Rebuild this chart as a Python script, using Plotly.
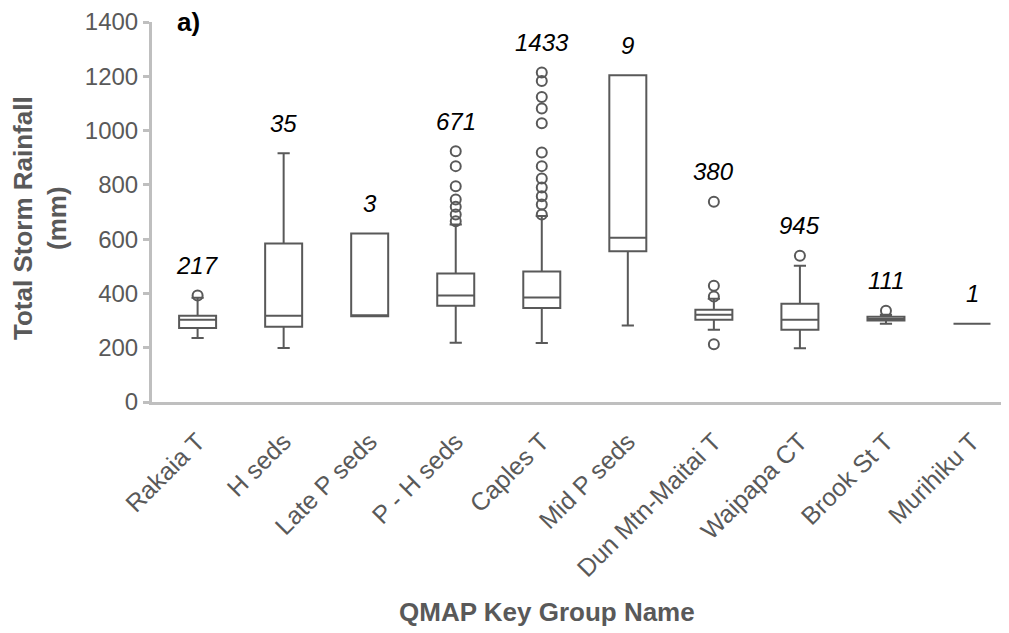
import plotly.graph_objects as go

categories = ["Rakaia T", "H seds", "Late P seds", "P - H seds", "Caples T",
              "Mid P seds", "Dun Mtn-Maitai T", "Waipapa CT", "Brook St T", "Murihiku T"]
counts = [217, 35, 3, 671, 1433, 9, 380, 945, 111, 1]
q1 = [273, 277, 316, 355, 346, 555, 303, 266, 300, 288]
median = [303, 318, 320, 392, 385, 605, 321, 303, 306, 288]
q3 = [318, 584, 621, 473, 481, 1204, 340, 362, 314, 288]
lower_fence = [236, 199, 316, 218, 217, 282, 266, 198, 288, 288]
upper_fence = [384, 916, 621, 654, 685, 1204, 380, 502, 321, 288]
outliers = [
    [392],
    [],
    [],
    [924, 869, 795, 746, 719, 691, 666],
    [1214, 1183, 1124, 1081, 1027, 919, 869, 823, 790, 758, 728, 691],
    [],
    [738, 428, 389, 213],
    [539],
    [336],
    [],
]
y_ticks = [0, 200, 400, 600, 800, 1000, 1200, 1400]

FONT = "Liberation Sans, Arial, sans-serif"
LINE = "#595959"
AXIS = "#bfbfbf"

# plot area in page pixels: left 152, right 1009, top 22, bottom 402
# (page body adds an 8 px offset)
PL, PT, PW, PH = 144, 14, 857, 380


def px_x(p):
    return (p - 8 - PL) / PW


def px_y(p):
    return (PT + PH - (p - 8)) / PH


fig = go.Figure()
fig.add_trace(go.Box(
    x=categories, q1=q1, median=median, q3=q3,
    lowerfence=lower_fence, upperfence=upper_fence,
    boxpoints=False, width=0.43, whiskerwidth=0.33,
    fillcolor="rgba(255,255,255,0)",
    line=dict(color=LINE, width=2),
    showlegend=False, hoverinfo="skip",
))

ox, oy = [], []
for c, vals in zip(categories, outliers):
    for v in vals:
        ox.append(c)
        oy.append(v)
fig.add_trace(go.Scatter(
    x=ox, y=oy, mode="markers",
    marker=dict(symbol="circle-open", size=10, color=LINE, line=dict(width=2, color=LINE)),
    showlegend=False, hoverinfo="skip",
))

for c, n, uf, q, outs in zip(categories, counts, upper_fence, q3, outliers):
    top = max([uf, q] + outs)
    fig.add_annotation(x=c, y=top, text=str(n), showarrow=False,
                       xanchor="center", yanchor="middle", yshift=30,
                       font=dict(family=FONT, size=24, color="black", style="italic"))

fig.add_annotation(xref="paper", yref="paper", x=px_x(40), y=px_y(218),
                   xanchor="center", yanchor="middle",
                   text="<b>Total Storm Rainfall<br>(mm)</b>", textangle=-90,
                   showarrow=False, font=dict(family=FONT, size=26, color=LINE))
fig.add_annotation(xref="paper", yref="paper", x=px_x(547), y=px_y(612),
                   xanchor="center", yanchor="middle",
                   text="<b>QMAP Key Group Name</b>",
                   showarrow=False, font=dict(family=FONT, size=26, color=LINE))
fig.add_annotation(xref="paper", yref="paper", x=px_x(188), y=px_y(22),
                   xanchor="center", yanchor="middle",
                   text="<b>a)</b>", showarrow=False,
                   font=dict(family=FONT, size=26, color="black"))

fig.update_layout(
    width=1001, height=625,
    margin=dict(l=PL, r=0, t=PT, b=625 - PT - PH),
    paper_bgcolor="white", plot_bgcolor="white",
    font=dict(family=FONT, size=24, color=LINE),
    xaxis=dict(
        type="category", range=[-0.53, 9.43],
        showline=True, linecolor=AXIS, linewidth=3,
        showgrid=False, zeroline=False, ticks="", tickangle=-45,
        ticklabelstandoff=12,
        tickfont=dict(family=FONT, size=25, color=LINE),
    ),
    yaxis=dict(
        range=[0, 1400], tickvals=y_ticks,
        showline=True, linecolor=AXIS, linewidth=3,
        showgrid=False, zeroline=False,
        ticks="outside", ticklen=6, tickwidth=3, tickcolor=AXIS,
        tickfont=dict(family=FONT, size=24, color=LINE),
    ),
)

fig.write_html("out.html")
